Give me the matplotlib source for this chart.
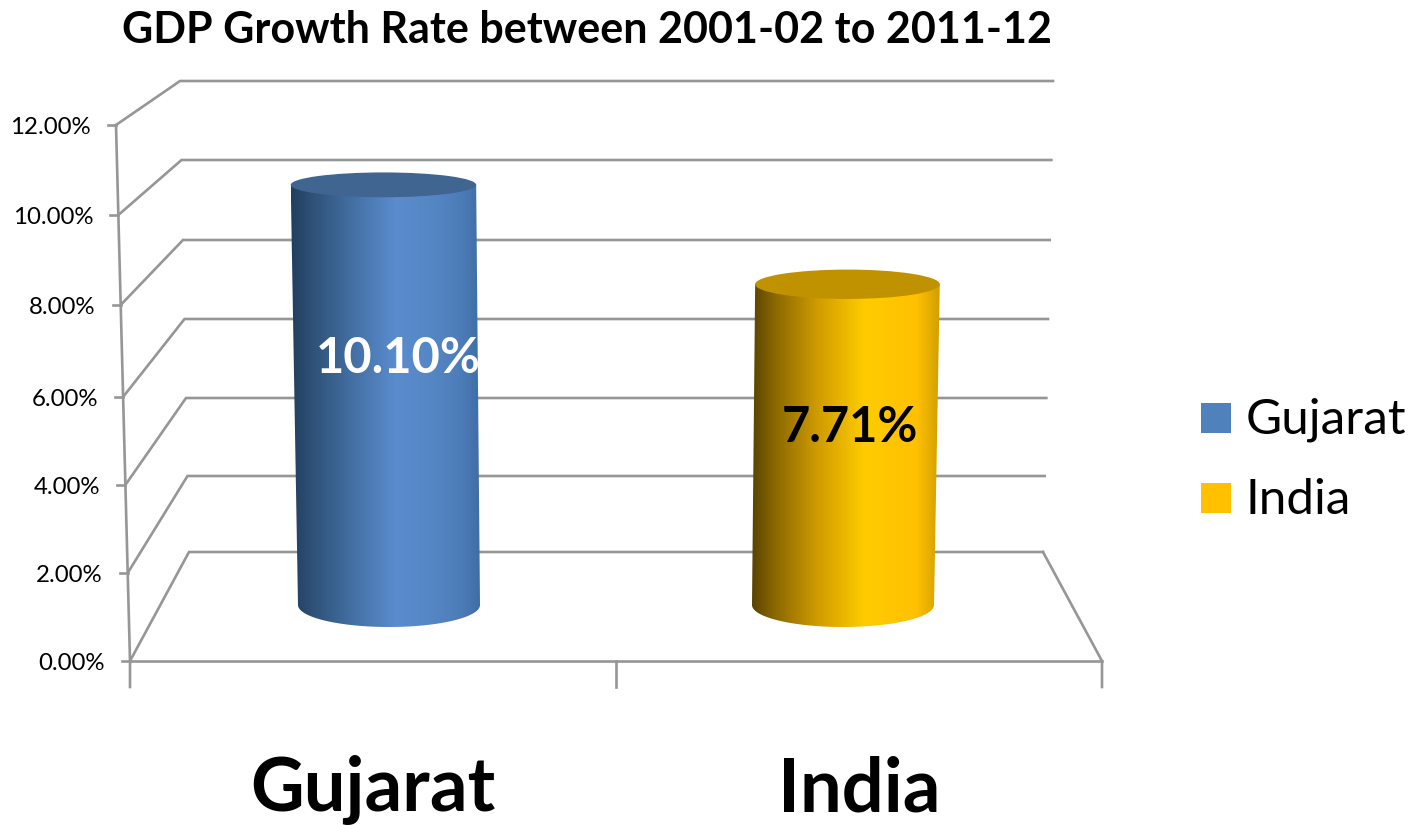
import numpy as np
import matplotlib
matplotlib.use("Agg")
import matplotlib.pyplot as plt
from matplotlib.colors import LinearSegmentedColormap
from matplotlib.patches import Ellipse, PathPatch, Rectangle
from matplotlib.path import Path

plt.rcParams['font.family'] = ['Lato', 'DejaVu Sans']

categories = ["Gujarat", "India"]
values = [10.10, 7.71]
tick_values = [0, 2, 4, 6, 8, 10, 12]
tick_labels = ["0.00%", "2.00%", "4.00%", "6.00%", "8.00%", "10.00%", "12.00%"]
title = "GDP Growth Rate between 2001-02 to 2011-12"
colors = ["#4F81BD", "#FFC000"]
top_colors = ["#3F6590", "#C09200"]
label_colors = ["white", "black"]
ramps = [
    [(0, "#233F5E"), (0.12, "#2F5379"), (0.35, "#4673A8"), (0.55, "#5A8CCE"), (0.75, "#5586C4"), (0.9, "#4C7CB8"), (1, "#3F6CA3")],
    [(0, "#5A4300"), (0.12, "#8A6800"), (0.35, "#D09C00"), (0.6, "#FFCC00"), (0.88, "#FFC000"), (1, "#D0A000")],
]

VMAX = 12.0
GRID = "#969696"
# Pixel layout of the perspective frame at each tick value
FRONT_Y = [661, 573, 485, 397, 305, 215, 125]
BACK_Y = [552, 476, 398, 319, 240, 160, 81]


def front_pt(v):
    return 130 - 14 * v / VMAX, np.interp(v, tick_values, FRONT_Y)


def back_y(v):
    return np.interp(v, tick_values, BACK_Y)


def back_left_x(v):
    return 189 - 9 * v / VMAX


def back_right_x(v):
    return 1043 + 10 * v / VMAX


fig = plt.figure(figsize=(14.16, 8.25), dpi=100)
ax = fig.add_axes([0, 0, 1, 1])
ax.set_xlim(0, 1416)
ax.set_ylim(825, 0)
ax.axis("off")

for v, lab in zip(tick_values, tick_labels):
    fx, fy = front_pt(v)
    ax.plot([fx, back_left_x(v), back_right_x(v)], [fy, back_y(v), back_y(v)],
            color=GRID, lw=1.9, solid_joinstyle="miter", zorder=1)
    ax.plot([fx - 8, fx], [fy, fy], color=GRID, lw=1.9, zorder=1)
    ax.text(fx - 25, fy + 3, lab, ha="right", va="center", fontsize=17.3, color="black")

f0x, f0y = front_pt(0)
ftx, fty = front_pt(VMAX)
ax.plot([ftx, f0x, f0x], [fty, f0y, 687], color=GRID, lw=1.9, zorder=1)
ax.plot([f0x, 1102], [f0y, f0y], color=GRID, lw=1.9, zorder=1)
ax.plot([back_right_x(0), 1102, 1102], [back_y(0), f0y, 687], color=GRID, lw=1.9, zorder=1)
ax.plot([616, 616], [f0y, 687], color=GRID, lw=1.9, zorder=1)

base_cx = [389, 843]
lean = [-0.55, 0.58]
for i, (cat, val) in enumerate(zip(categories, values)):
    by = 605
    ty = by - 41.6 * val
    bcx = base_cx[i]
    tcx = bcx + lean[i] * val
    bhw = 91
    thw = bhw + 0.17 * val
    bb = 22
    tb = 22 - 0.95 * val
    t = np.linspace(0, np.pi, 60)
    bottom = np.column_stack([bcx + bhw * np.cos(t), by + bb * np.sin(t)])
    verts = np.vstack([[[tcx + thw, ty]], bottom[::1], [[tcx - thw, ty]], [[tcx + thw, ty]]])
    codes = [Path.MOVETO] + [Path.LINETO] * (len(verts) - 2) + [Path.CLOSEPOLY]
    clip = PathPatch(Path(verts, codes), fc="none", ec="none", transform=ax.transData)
    ax.add_patch(clip)
    cmap = LinearSegmentedColormap.from_list(f"r{i}", ramps[i])
    left = min(tcx - thw, bcx - bhw)
    right = max(tcx + thw, bcx + bhw)
    im = ax.imshow(np.linspace(0, 1, 256)[None, :], cmap=cmap, aspect="auto",
                   extent=[left, right, by + bb + 2, ty - 2], zorder=3, interpolation="bilinear")
    im.set_clip_path(clip)
    ax.add_patch(Ellipse((tcx, ty), 2 * thw, 2 * tb, fc=top_colors[i], ec="none", zorder=4))
    ax.text((tcx + bcx) / 2 + (12 if i == 0 else 5), by - 41.6 * val * (0.586 if i == 0 else 0.553),
            f"{val:.2f}%", ha="center", va="center", fontsize=35.2, fontweight="bold",
            color=label_colors[i], zorder=5)
    ax.text([373, 859][i], 790, cat, ha="center", va="center", fontsize=53.5, fontweight="bold", color="black")
    ly = [418, 498][i]
    ax.add_patch(Rectangle((1201, ly - 15), 30, 30, fc=colors[i], ec="none"))
    ax.text(1246, ly + 2, cat, ha="left", va="center", fontsize=35.6, color="black")

ax.set_xlim(0, 1416)
ax.set_ylim(825, 0)
ax.text(587, 30, title, ha="center", va="center", fontsize=31, fontweight="bold", color="black")
fig.savefig("out.png", dpi=100, facecolor="white")
